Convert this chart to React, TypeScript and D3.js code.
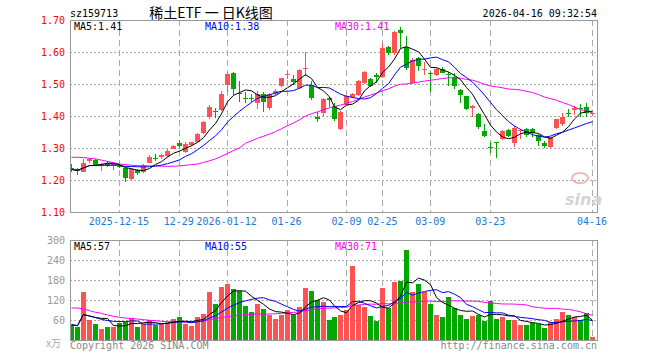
import React from 'react';
import * as d3 from 'd3';

// trading days shown in the chart
const dates = [
  '2025-12-03', '2025-12-04', '2025-12-05', '2025-12-08', '2025-12-09', '2025-12-10', '2025-12-11', '2025-12-12',
  '2025-12-15', '2025-12-16', '2025-12-17', '2025-12-18', '2025-12-19', '2025-12-22', '2025-12-23', '2025-12-24',
  '2025-12-25', '2025-12-26', '2025-12-29', '2025-12-30', '2025-12-31',
  '2026-01-05', '2026-01-06', '2026-01-07', '2026-01-08', '2026-01-09', '2026-01-12', '2026-01-13', '2026-01-14',
  '2026-01-15', '2026-01-16', '2026-01-19', '2026-01-20', '2026-01-21', '2026-01-22', '2026-01-23', '2026-01-26',
  '2026-01-27', '2026-01-28', '2026-01-29', '2026-01-30',
  '2026-02-02', '2026-02-03', '2026-02-04', '2026-02-05', '2026-02-06', '2026-02-09', '2026-02-10', '2026-02-11',
  '2026-02-12', '2026-02-13', '2026-02-24', '2026-02-25', '2026-02-26', '2026-02-27',
  '2026-03-02', '2026-03-03', '2026-03-04', '2026-03-05', '2026-03-06', '2026-03-09', '2026-03-10', '2026-03-11',
  '2026-03-12', '2026-03-13', '2026-03-16', '2026-03-17', '2026-03-18', '2026-03-19', '2026-03-20', '2026-03-23',
  '2026-03-24', '2026-03-25', '2026-03-26', '2026-03-27', '2026-03-30', '2026-03-31',
  '2026-04-01', '2026-04-02', '2026-04-03', '2026-04-07', '2026-04-08', '2026-04-09', '2026-04-10', '2026-04-13',
  '2026-04-14', '2026-04-15', '2026-04-16',
];

const opens = [
  1.236, 1.234, 1.226, 1.258, 1.262, 1.245, 1.254, 1.244, 1.244, 1.236, 1.203, 1.231, 1.226, 1.254, 1.270, 1.273,
  1.276, 1.298, 1.317, 1.289, 1.309, 1.320, 1.348, 1.398, 1.415, 1.419, 1.497, 1.535, 1.472, 1.457, 1.457, 1.440,
  1.469, 1.424, 1.469, 1.494, 1.528, 1.516, 1.486, 1.548, 1.497, 1.398, 1.408, 1.455, 1.431, 1.358, 1.434, 1.458,
  1.466, 1.504, 1.515, 1.528, 1.521, 1.617, 1.596, 1.669, 1.615, 1.502, 1.580, 1.546, 1.533, 1.528, 1.546, 1.530,
  1.521, 1.481, 1.462, 1.424, 1.406, 1.353, 1.302, 1.318, 1.328, 1.356, 1.315, 1.355, 1.358, 1.359, 1.341, 1.317,
  1.302, 1.361, 1.375, 1.408, 1.419, 1.426, 1.427, 1.405,
];
const highs = [
  1.250, 1.236, 1.265, 1.270, 1.265, 1.253, 1.258, 1.255, 1.250, 1.238, 1.236, 1.234, 1.250, 1.277, 1.280, 1.280,
  1.296, 1.310, 1.325, 1.318, 1.320, 1.346, 1.384, 1.434, 1.424, 1.477, 1.538, 1.537, 1.509, 1.476, 1.469, 1.479,
  1.476, 1.472, 1.485, 1.520, 1.544, 1.528, 1.546, 1.599, 1.510, 1.414, 1.456, 1.460, 1.440, 1.416, 1.466, 1.472,
  1.512, 1.541, 1.520, 1.535, 1.627, 1.618, 1.666, 1.677, 1.650, 1.580, 1.585, 1.570, 1.539, 1.550, 1.554, 1.539,
  1.535, 1.484, 1.464, 1.434, 1.408, 1.375, 1.320, 1.320, 1.357, 1.360, 1.369, 1.358, 1.362, 1.362, 1.345, 1.323,
  1.335, 1.392, 1.408, 1.421, 1.431, 1.437, 1.440, 1.410,
];
const lows = [
  1.226, 1.216, 1.224, 1.252, 1.245, 1.228, 1.240, 1.230, 1.236, 1.195, 1.200, 1.216, 1.222, 1.252, 1.259, 1.267,
  1.272, 1.296, 1.299, 1.285, 1.305, 1.318, 1.345, 1.391, 1.393, 1.417, 1.471, 1.466, 1.445, 1.442, 1.445, 1.421,
  1.414, 1.420, 1.466, 1.490, 1.515, 1.497, 1.483, 1.525, 1.450, 1.382, 1.396, 1.428, 1.383, 1.355, 1.430, 1.455,
  1.463, 1.500, 1.492, 1.504, 1.518, 1.590, 1.590, 1.611, 1.545, 1.500, 1.542, 1.528, 1.476, 1.526, 1.533, 1.494,
  1.484, 1.440, 1.419, 1.396, 1.360, 1.335, 1.283, 1.268, 1.325, 1.334, 1.304, 1.327, 1.335, 1.333, 1.306, 1.299,
  1.299, 1.358, 1.369, 1.398, 1.403, 1.398, 1.398, 1.400,
];
const closes = [
  1.233, 1.227, 1.254, 1.266, 1.247, 1.250, 1.245, 1.252, 1.242, 1.205, 1.233, 1.221, 1.247, 1.273, 1.268, 1.278,
  1.292, 1.307, 1.306, 1.312, 1.318, 1.344, 1.381, 1.427, 1.413, 1.469, 1.531, 1.483, 1.469, 1.455, 1.455, 1.469,
  1.445, 1.469, 1.479, 1.518, 1.530, 1.505, 1.544, 1.549, 1.457, 1.391, 1.452, 1.450, 1.391, 1.414, 1.462, 1.469,
  1.509, 1.539, 1.495, 1.521, 1.614, 1.596, 1.664, 1.660, 1.549, 1.575, 1.557, 1.548, 1.531, 1.546, 1.535, 1.528,
  1.494, 1.465, 1.423, 1.431, 1.365, 1.338, 1.300, 1.317, 1.353, 1.336, 1.361, 1.356, 1.341, 1.348, 1.322, 1.306,
  1.333, 1.390, 1.398, 1.406, 1.426, 1.425, 1.410, 1.408,
];
// volume in 万
const volumes = [
  46, 40, 143, 59, 49, 34, 38, 38, 51, 53, 67, 38, 49, 61, 46, 48,
  51, 64, 70, 49, 41, 70, 79, 143, 109, 160, 169, 154, 147, 103, 83, 109,
  94, 76, 64, 76, 91, 74, 98, 157, 148, 119, 113, 61, 70, 74, 91, 221,
  106, 98, 73, 56, 157, 96, 173, 176, 269, 143, 167, 143, 109, 76, 68, 128,
  95, 76, 64, 73, 76, 56, 116, 62, 68, 59, 59, 46, 46, 50, 48, 35,
  53, 64, 83, 76, 70, 61, 81, 8,
];
// MA30 values before a full 30-day window is inside the chart
const ma30PriceHead = [
  1.271, 1.271, 1.270, 1.268, 1.266, 1.262, 1.258, 1.254, 1.250, 1.248, 1.246, 1.245, 1.244, 1.244, 1.244,
  1.243, 1.243, 1.243, 1.244, 1.246, 1.248, 1.250, 1.255, 1.260, 1.266, 1.274, 1.283, 1.292, 1.300,
];
const ma30VolumeHead = [
  96, 96, 93, 88, 83, 80, 75, 71, 68, 66, 64, 63, 61, 59, 58, 56, 55, 54, 54, 54, 54, 55, 57, 61, 64, 68, 70, 73, 75,
];

const xTicks = [
  { date: '2025-12-15', label: '2025-12-15' },
  { date: '2025-12-29', label: '12-29' },
  { date: '2026-01-12', label: '2026-01-12' },
  { date: '2026-01-26', label: '01-26' },
  { date: '2026-02-09', label: '02-09' },
  { date: '2026-02-25', label: '02-25' },
  { date: '2026-03-09', label: '03-09' },
  { date: '2026-03-23', label: '03-23' },
  { date: '2026-04-16', label: '04-16' },
];
const priceTicks = [1.1, 1.2, 1.3, 1.4, 1.5, 1.6, 1.7];
const volumeTicks = [60, 120, 180, 240, 300];

const RED = '#ff5252';
const GREEN = '#00a800';
const MONO = '"DejaVu Sans Mono", "Liberation Mono", monospace';

function movingAvg(values: number[], n: number, head?: number[]) {
  return values.map((_, i) => {
    if (i < n - 1) {
      if (head) return head[i];
      return d3.mean(values.slice(0, i + 1))!;
    }
    return d3.mean(values.slice(i - n + 1, i + 1))!;
  });
}

const App: React.FC = () => {
  const left = 70;
  const right = 597;
  const pTop = 20;
  const pBottom = 212;
  const vTop = 240;
  const vBottom = 340;

  const x = d3.scalePoint<string>().domain(dates).range([71, 592]);
  const y = d3.scaleLinear().domain([1.1, 1.7]).range([pBottom, pTop]);
  const yv = d3.scaleLinear().domain([0, 300]).range([vBottom, vTop]);

  const cx = (i: number) => Math.round(x(dates[i])!);
  const up = (i: number) => closes[i] >= opens[i];

  const ma5 = movingAvg(closes, 5);
  const ma10 = movingAvg(closes, 10);
  const ma30 = movingAvg(closes, 30, ma30PriceHead);
  const vma5 = movingAvg(volumes, 5);
  const vma10 = movingAvg(volumes, 10);
  const vma30 = movingAvg(volumes, 30, ma30VolumeHead);

  const priceLine = d3
    .line<number>()
    .x((_, i) => cx(i) + 0.5)
    .y(d => y(d));
  const volLine = d3
    .line<number>()
    .x((_, i) => cx(i) + 0.5)
    .y(d => yv(d));

  return (
    <div style={{ position: 'fixed', left: 0, top: 0, background: '#fff' }}>
      <svg width={660} height={360} style={{ display: 'block', background: '#fff' }} fontFamily={MONO}>
        <defs>
          <clipPath id="priceClip">
            <rect x={left} y={pTop} width={right - left} height={pBottom - pTop} />
          </clipPath>
          <clipPath id="volClip">
            <rect x={left} y={vTop} width={right - left} height={vBottom - vTop} />
          </clipPath>
        </defs>

        {/* header */}
        <text x={70} y={17} fontSize={10} fill="#000">sz159713</text>
        <text x={211} y={18} fontSize={14} textAnchor="middle" fill="#000" fontFamily='"Noto Sans CJK SC", sans-serif'>
          稀土ETF 一 日K线图
        </text>
        <text x={597} y={17} fontSize={10} textAnchor="end" fill="#000">2026-04-16 09:32:54</text>

        {/* price grid */}
        {priceTicks.slice(1, -1).map(t => (
          <line key={'pg' + t} x1={left} x2={right} y1={Math.round(y(t)) + 0.5} y2={Math.round(y(t)) + 0.5}
            stroke="#aaa" strokeDasharray="2,2" />
        ))}
        {volumeTicks.slice(0, -1).map(t => (
          <line key={'vg' + t} x1={left} x2={right} y1={Math.round(yv(t)) + 0.5} y2={Math.round(yv(t)) + 0.5}
            stroke="#aaa" strokeDasharray="2,2" />
        ))}
        {xTicks.map(t => {
          const xx = Math.round(x(t.date)!) + 0.5;
          return (
            <g key={'xg' + t.date}>
              <line x1={xx} x2={xx} y1={pTop} y2={pBottom} stroke="#aaa" strokeDasharray="6,4" />
              <line x1={xx} x2={xx} y1={vTop} y2={vBottom} stroke="#aaa" strokeDasharray="6,4" />
            </g>
          );
        })}

        {/* candles */}
        <g clipPath="url(#priceClip)" shapeRendering="crispEdges">
          {dates.map((d, i) => {
            const c = cx(i);
            const color = up(i) ? RED : GREEN;
            const top = Math.round(y(Math.max(opens[i], closes[i])));
            const bot = Math.round(y(Math.min(opens[i], closes[i])));
            return (
              <g key={d}>
                <line x1={c + 0.5} x2={c + 0.5} y1={Math.round(y(highs[i]))} y2={Math.round(y(lows[i]))} stroke={color} />
                <rect x={c - 2} y={top} width={5} height={Math.max(1, bot - top)} fill={color} />
              </g>
            );
          })}
        </g>
        <g clipPath="url(#priceClip)" fill="none" strokeWidth={1}>
          <path d={priceLine(ma30)!} stroke="#ff00ff" />
          <path d={priceLine(ma10)!} stroke="#0000ff" />
          <path d={priceLine(ma5)!} stroke="#000" />
        </g>

        {/* volume */}
        <g clipPath="url(#volClip)" shapeRendering="crispEdges">
          {volumes.map((v, i) => {
            const top = Math.round(yv(v));
            return <rect key={'v' + i} x={cx(i) - 2} y={top} width={5} height={vBottom - top} fill={up(i) ? RED : GREEN} />;
          })}
        </g>
        <g clipPath="url(#volClip)" fill="none" strokeWidth={1}>
          <path d={volLine(vma30)!} stroke="#ff00ff" />
          <path d={volLine(vma10)!} stroke="#0000ff" />
          <path d={volLine(vma5)!} stroke="#000" />
        </g>

        {/* frames */}
        <rect x={left + 0.5} y={pTop + 0.5} width={right - left} height={pBottom - pTop} fill="none" stroke="#999" />
        <rect x={left + 0.5} y={vTop + 0.5} width={right - left} height={vBottom - vTop} fill="none" stroke="#999" />

        {/* y labels */}
        {priceTicks.map(t => (
          <text key={'pl' + t} x={65} y={y(t) + 4} fontSize={10} textAnchor="end" fill="#f00">{t.toFixed(2)}</text>
        ))}
        {volumeTicks.map(t => (
          <text key={'vl' + t} x={65} y={yv(t) + 4} fontSize={10} textAnchor="end" fill="#999">{t}</text>
        ))}
        <text x={61} y={347} fontSize={10} textAnchor="end" fill="#aaa" fontFamily='"Noto Sans CJK SC", sans-serif'>x万</text>

        {/* x labels */}
        {xTicks.map(t => (
          <text key={'xl' + t.date} x={x(t.date)!} y={225} fontSize={10} textAnchor="middle" fill="#1f78d1">{t.label}</text>
        ))}

        {/* legends */}
        <text x={74} y={30} fontSize={10} fill="#000">MA5:{ma5[ma5.length - 1].toFixed(2)}</text>
        <text x={205} y={30} fontSize={10} fill="#0000ff">MA10:{ma10[ma10.length - 1].toFixed(2)}</text>
        <text x={335} y={30} fontSize={10} fill="#ff00ff">MA30:{ma30[ma30.length - 1].toFixed(2)}</text>
        <text x={74} y={250} fontSize={10} fill="#000">MA5:57</text>
        <text x={205} y={250} fontSize={10} fill="#0000ff">MA10:55</text>
        <text x={335} y={250} fontSize={10} fill="#ff00ff">MA30:71</text>

        {/* watermark */}
        <ellipse cx={580} cy={178} rx={8} ry={5} fill="none" stroke="#f2b8b8" strokeWidth={2} />
        <text x={565} y={205} fontSize={16} fontStyle="italic" fontWeight="bold" fill="#d4d4d4"
          fontFamily="'DejaVu Sans', sans-serif">sina</text>

        {/* footer */}
        <text x={70} y={349} fontSize={10} fill="#888">Copyright 2026 SINA.COM</text>
        <text x={597} y={349} fontSize={10} textAnchor="end" fill="#888">http://finance.sina.com.cn</text>
      </svg>
    </div>
  );
};

export default App;
